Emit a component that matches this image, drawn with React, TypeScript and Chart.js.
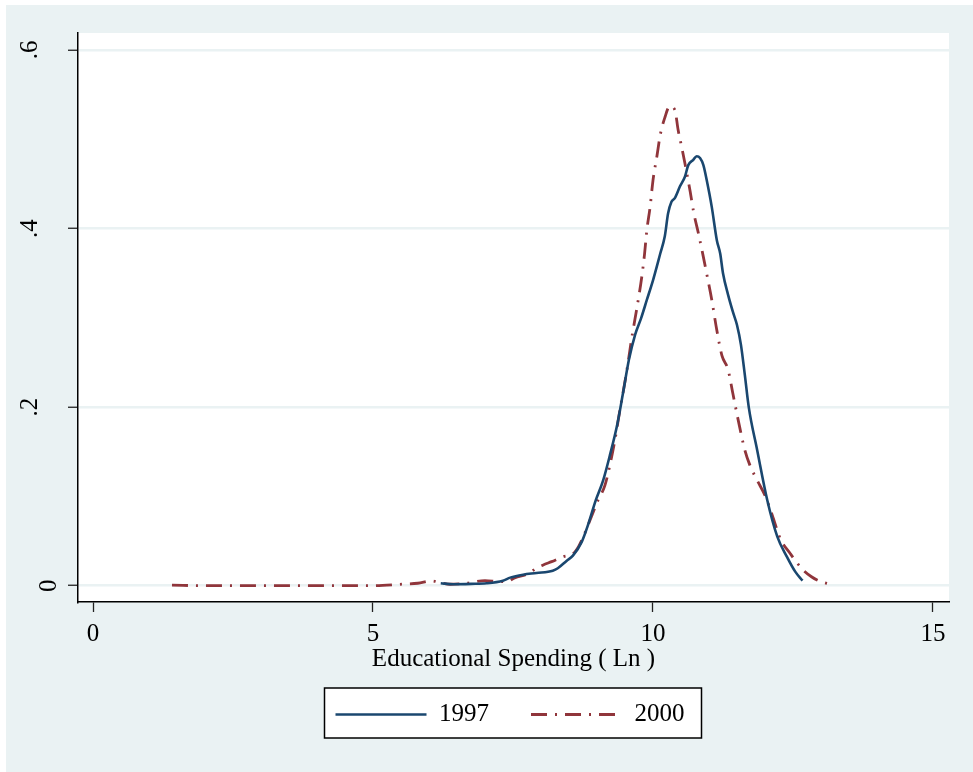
import React, { useEffect, useRef } from 'react';
import { Chart, registerables } from 'chart.js';

Chart.register(...registerables);

const FONT = "'Liberation Serif', 'Times New Roman', serif";
const BG = '#eaf2f3';
const NAVY = '#1a476f';
const MAROON = '#90353b';

const seriesLabels = ['1997', '2000'];

const x1997 = [6.21, 6.43, 6.75, 7.03, 7.32, 7.45, 7.68, 7.92, 8.21, 8.30, 8.46, 8.57, 8.73, 8.84, 8.98, 9.11, 9.23, 9.36, 9.46, 9.57, 9.68, 9.79, 9.89, 10.00, 10.13, 10.21, 10.27, 10.33, 10.39, 10.48, 10.57, 10.63, 10.72, 10.78, 10.84, 10.90, 10.96, 11.05, 11.14, 11.20, 11.25, 11.34, 11.43, 11.50, 11.57, 11.64, 11.71, 11.86, 12.04, 12.22, 12.39, 12.54, 12.67];
const y1997 = [0.0027, 0.0016, 0.002, 0.0027, 0.0056, 0.009, 0.0123, 0.0142, 0.0168, 0.0195, 0.028, 0.0336, 0.0493, 0.068, 0.096, 0.118, 0.146, 0.18, 0.214, 0.253, 0.281, 0.300, 0.320, 0.342, 0.372, 0.391, 0.417, 0.430, 0.434, 0.447, 0.458, 0.471, 0.477, 0.481, 0.479, 0.471, 0.454, 0.424, 0.387, 0.372, 0.350, 0.326, 0.306, 0.292, 0.270, 0.236, 0.200, 0.152, 0.096, 0.055, 0.0325, 0.0157, 0.0056];

const x2000 = [1.41, 2.0, 3.0, 4.0, 5.0, 5.48, 5.80, 6.05, 6.20, 6.38, 6.67, 7.00, 7.27, 7.39, 7.54, 7.75, 7.92, 8.04, 8.19, 8.40, 8.58, 8.67, 8.73, 8.88, 9.02, 9.14, 9.23, 9.32, 9.41, 9.52, 9.63, 9.71, 9.80, 9.85, 9.89, 9.95, 10.00, 10.07, 10.13, 10.21, 10.30, 10.39, 10.45, 10.51, 10.57, 10.66, 10.73, 10.81, 10.90, 10.97, 11.05, 11.14, 11.23, 11.34, 11.43, 11.52, 11.64, 11.73, 11.86, 12.00, 12.13, 12.27, 12.45, 12.68, 12.83, 12.98, 13.16];
const y2000 = [0.0005, 0, 0, 0, 0, 0.0015, 0.0027, 0.0053, 0.0034, 0.0016, 0.0027, 0.0056, 0.0045, 0.0045, 0.009, 0.0128, 0.0195, 0.0232, 0.0269, 0.0325, 0.0362, 0.0437, 0.0512, 0.074, 0.096, 0.112, 0.135, 0.163, 0.197, 0.236, 0.281, 0.31, 0.346, 0.372, 0.398, 0.425, 0.454, 0.481, 0.505, 0.524, 0.537, 0.533, 0.510, 0.492, 0.473, 0.443, 0.417, 0.395, 0.368, 0.346, 0.32, 0.286, 0.258, 0.242, 0.214, 0.186, 0.152, 0.135, 0.118, 0.101, 0.079, 0.053, 0.036, 0.0176, 0.010, 0.005, 0.0016];

const xTickValues = [0, 5, 10, 15];
const xTickLabels = ['0', '5', '10', '15'];
const yTickValues = [0, 0.2, 0.4, 0.6];
const yTickLabels = ['0', '.2', '.4', '.6'];
const xTitle = 'Educational Spending ( Ln )';

const toPoints = (xs: number[], ys: number[]) => xs.map((x, i) => ({ x, y: ys[i] }));

const stataPlugin = {
  id: 'stataLook',
  afterLayout(chart: any) {
    // centre the legend under the plot region, as Stata does
    const lg = chart.legend;
    const ca = chart.chartArea;
    if (lg && ca) {
      lg.left = ca.left - 7;
      lg.right = ca.right;
      lg.width = lg.right - lg.left;
    }
  },
  beforeDraw(chart: any) {
    const { ctx, width, height, chartArea } = chart;
    ctx.save();
    ctx.fillStyle = '#ffffff';
    ctx.fillRect(0, 0, width, height);
    ctx.fillStyle = BG;
    ctx.fillRect(6, 5, width - 6, height - 5);
    ctx.fillStyle = '#ffffff';
    ctx.fillRect(chartArea.left, chartArea.top, chartArea.right - chartArea.left, chartArea.bottom - chartArea.top);
    const lg = chart.legend;
    const hb = lg && lg.legendHitBoxes;
    if (hb && hb.length) {
      const first = hb[0];
      const last = hb[hb.length - 1];
      const left = first.left - 11;
      const right = last.left + last.width + 17;
      const top = first.top - 14;
      const bottom = first.top + first.height + 11;
      ctx.fillStyle = '#ffffff';
      ctx.fillRect(left, top, right - left, bottom - top);
      ctx.strokeStyle = '#000000';
      ctx.lineWidth = 1.5;
      ctx.strokeRect(left, top, right - left, bottom - top);
    }
    ctx.restore();
  },
};

export default function App() {
  const canvasRef = useRef<HTMLCanvasElement | null>(null);

  useEffect(() => {
    if (!canvasRef.current) return;
    const chart = new Chart(canvasRef.current, {
      type: 'line',
      data: {
        datasets: [
          {
            label: seriesLabels[0],
            data: toPoints(x1997, y1997),
            borderColor: NAVY,
            backgroundColor: NAVY,
            borderWidth: 2.6,
            pointRadius: 0,
            pointStyle: 'line',
            cubicInterpolationMode: 'monotone',
            fill: false,
          },
          {
            label: seriesLabels[1],
            data: toPoints(x2000, y2000),
            borderColor: MAROON,
            backgroundColor: MAROON,
            borderWidth: 2.8,
            borderDash: [16, 8, 2, 8],
            pointRadius: 0,
            pointStyle: 'line',
            cubicInterpolationMode: 'monotone',
            fill: false,
          },
        ],
      },
      options: {
        animation: false,
        responsive: true,
        maintainAspectRatio: false,
        layout: { padding: { left: 12, right: 24, top: 33, bottom: 35 } },
        plugins: {
          tooltip: { enabled: false },
          legend: {
            position: 'bottom',
            align: 'center',
            labels: {
              usePointStyle: true,
              pointStyle: 'line',
              pointStyleWidth: 91,
              padding: 42,
              color: '#000',
              font: { family: FONT, size: 25 },
              generateLabels: (c: any) => {
                const items = (Chart.defaults as any).plugins.legend.labels.generateLabels(c);
                return items.map((it: any, i: number) => {
                  const ds = c.data.datasets[i];
                  return {
                    ...it,
                    strokeStyle: ds.borderColor,
                    fillStyle: ds.borderColor,
                    lineWidth: ds.borderWidth,
                    lineDash: ds.borderDash || [],
                  };
                });
              },
            },
          },
        },
        scales: {
          x: {
            type: 'linear',
            min: -0.268,
            max: 15.286,
            afterBuildTicks: (s: any) => {
              s.ticks = xTickValues.map((v) => ({ value: v }));
            },
            afterFit: (s: any) => {
              s.height = 58;
              s.paddingLeft = 0;
              s.paddingRight = 0;
            },
            grid: {
              drawOnChartArea: false,
              drawTicks: true,
              tickLength: 10,
              tickColor: '#222',
              tickWidth: 1.3,
            },
            border: { display: true, color: '#000', width: 1.5 },
            ticks: {
              color: '#000',
              font: { family: FONT, size: 25 },
              padding: 7,
              maxRotation: 0,
              autoSkip: false,
              callback: (_v: any, i: number) => xTickLabels[i],
            },
            title: {
              display: true,
              text: xTitle,
              color: '#000',
              font: { family: FONT, size: 25 },
              padding: { top: 0, bottom: -14 },
            },
          },
          y: {
            type: 'linear',
            min: -0.0183,
            max: 0.619,
            afterBuildTicks: (s: any) => {
              s.ticks = yTickValues.map((v) => ({ value: v }));
            },
            afterFit: (s: any) => {
              s.width = 66;
              s.paddingTop = 0;
              s.paddingBottom = 0;
            },
            grid: {
              color: BG,
              lineWidth: 2.5,
              drawTicks: true,
              tickLength: 10,
              tickColor: '#222',
              tickWidth: 1.3,
            },
            border: { display: true, color: '#000', width: 1.5 },
            ticks: {
              color: '#000',
              font: { family: FONT, size: 25, lineHeight: 1.52 },
              padding: 28,
              minRotation: 90,
              maxRotation: 90,
              crossAlign: 'center',
              autoSkip: false,
              callback: (_v: any, i: number) => (i === 0 ? ['', yTickLabels[0]] : yTickLabels[i]),
            },
          },
        },
      } as any,
      plugins: [stataPlugin],
    });
    return () => chart.destroy();
  }, []);

  return (
    <div style={{ position: 'absolute', left: 0, top: 0, width: 973, height: 772 }}>
      <canvas ref={canvasRef} />
    </div>
  );
}
